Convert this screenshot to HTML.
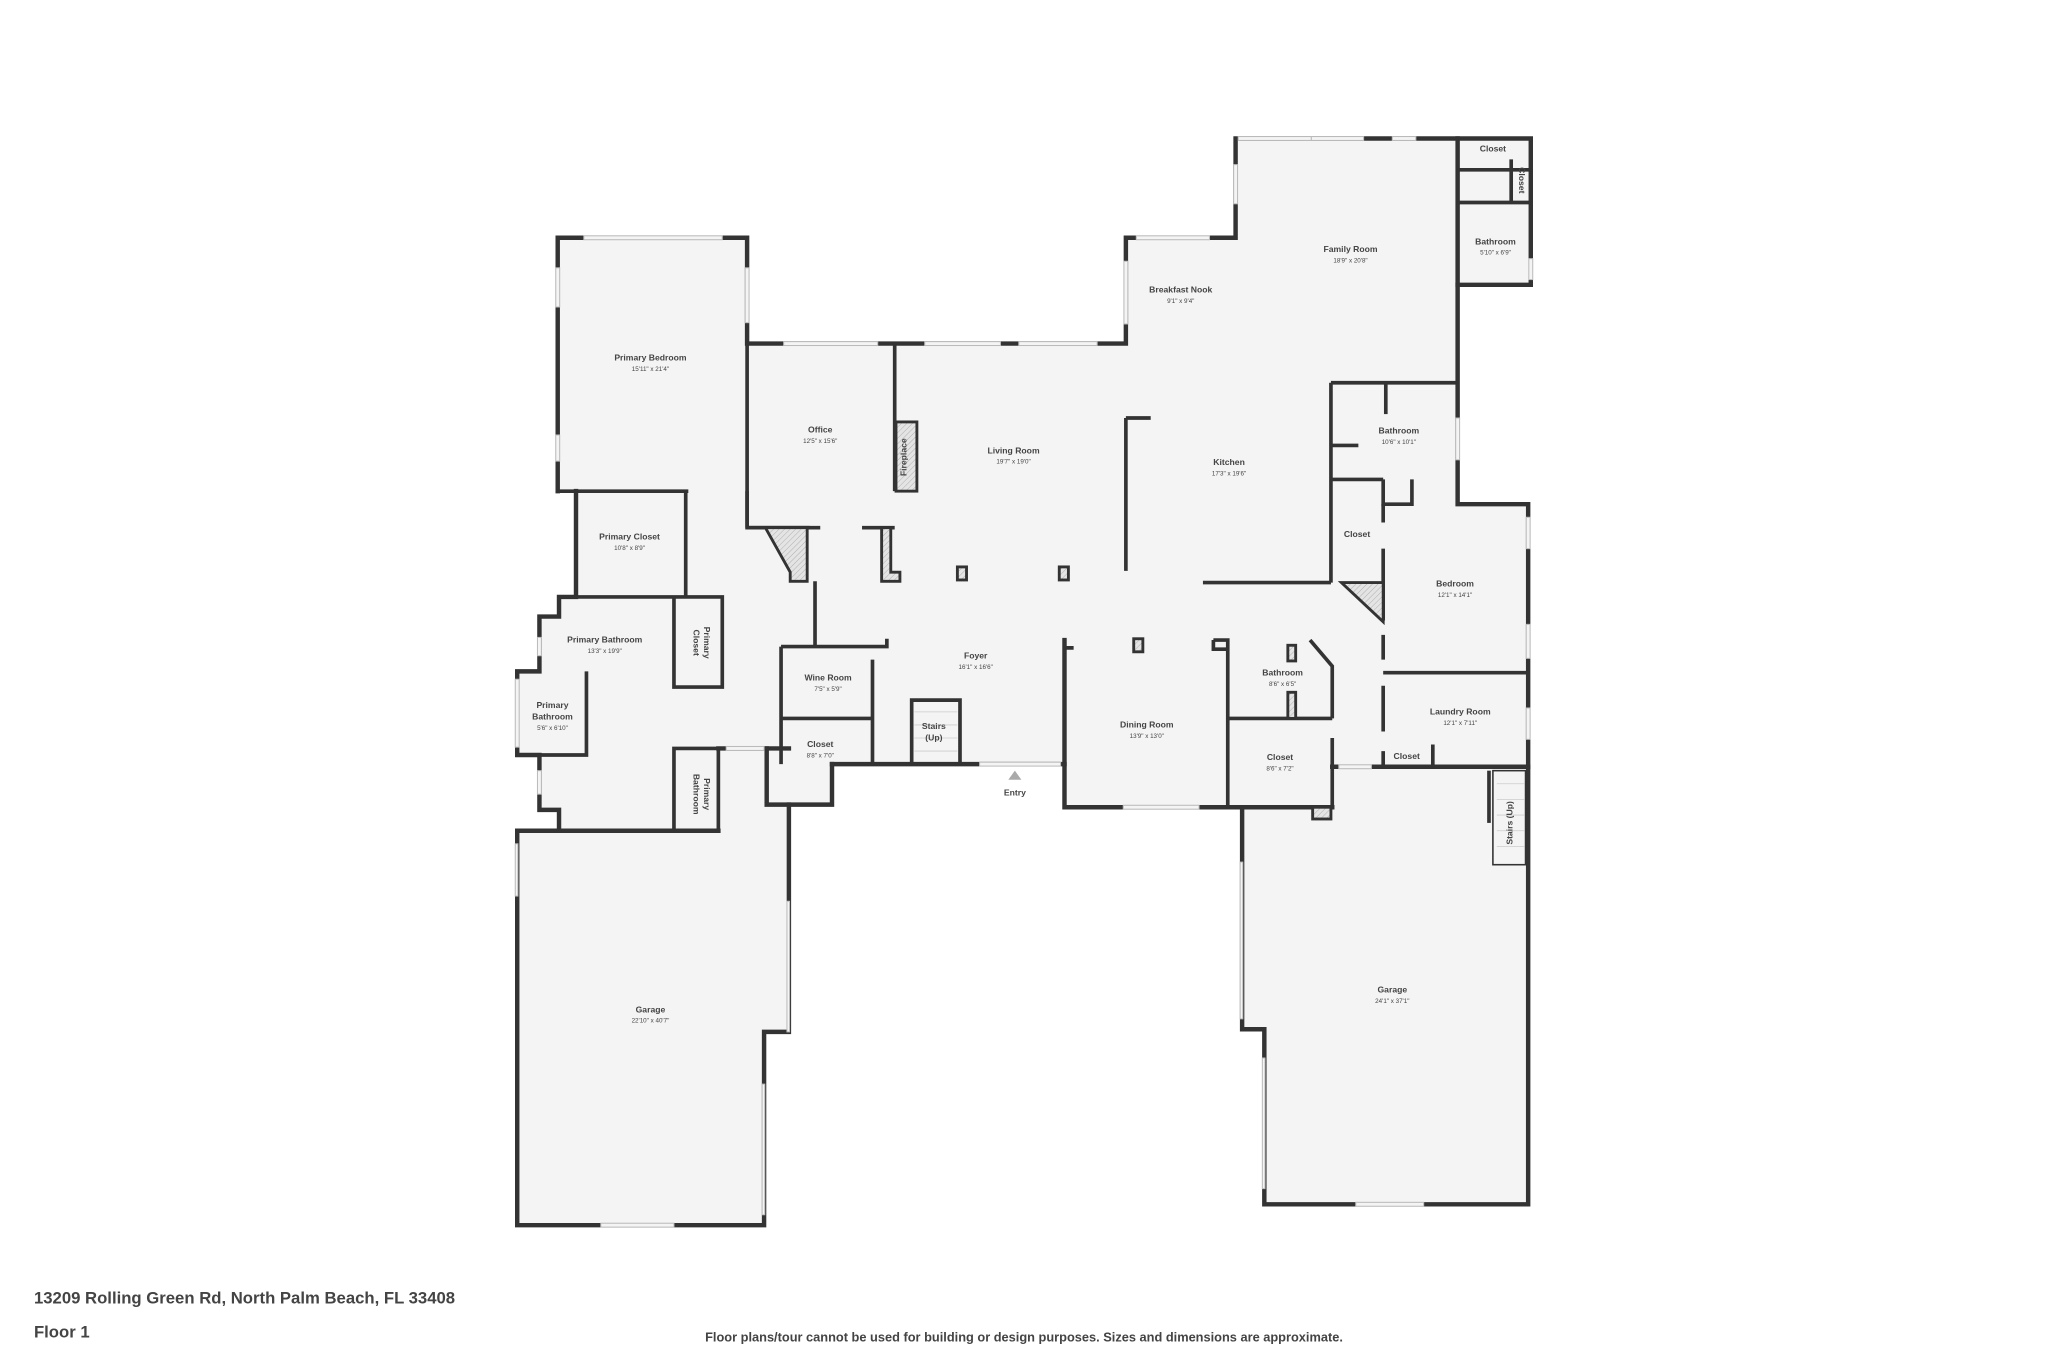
<!DOCTYPE html>
<html><head><meta charset="utf-8"><style>
html,body{margin:0;padding:0;background:#fff;}
svg{display:block;}
text{font-family:"Liberation Sans",sans-serif;fill:#444;text-anchor:middle;}
.n{font-size:6.6px;font-weight:bold;}
.d{font-size:4.8px;}
</style></head><body>
<svg width="2048" height="1365" viewBox="0 0 1568 1045" xmlns="http://www.w3.org/2000/svg">
<defs>
<pattern id="h" width="3" height="3" patternUnits="userSpaceOnUse" patternTransform="rotate(45)">
<rect width="3" height="3" fill="#e4e4e4"/><line x1="0" y1="0" x2="0" y2="3" stroke="#aaa" stroke-width="0.7"/></pattern>
</defs>
<path fill="#f4f4f4" d="M427,182 H572 V263 H862 V182 H946 V106 H1172 V218 H1116 V386 H1170 V922 H968 V788 H951 V618 H815 V585 H637 V616 H604 V790 H585 V938 H396 V636 H428 V620 H413 V578 H396 V514 H413 V472 H428 V457 H441 V376 H427 Z"/>
<g fill="none" stroke="#333" stroke-width="3.4" stroke-linecap="square">
<path d="M427,376 V182 H572 V263 H862 V182 H946 V106 H1172 V218 H1116"/>
<path d="M1116,106 V386 H1170 V922 H968 V788 H951 V618"/>
<path d="M815,490 V618 H1020"/>
<path d="M1020,587 H1170"/>
<path d="M637,585 H815"/>
<path d="M587,573 V616 H637 V585"/>
<path d="M604,616 V790 H585 V938 H396 V636 H550"/>
<path d="M550,573 H604"/>
<path d="M428,636 V620 H413 V578 H396 V514 H413 V472 H428 V457 H441 V376"/>
</g>
<g fill="none" stroke="#333" stroke-width="2.8">
<path d="M427,376 H527"/>
<path d="M441,376 V457"/>
<path d="M525,376 V457"/>
<path d="M428,457 H553 V526 H516 V457"/>
<path d="M396,578 H449 V514"/>
<path d="M516,636 V573 H550 V636"/>
<path d="M572,376 V404 H620"/>
<path d="M572,263 V404"/>
<path d="M572,404 H628 M660,404 H685"/>
<path d="M685,263 V376"/>
<path d="M624,445 V495"/>
<path d="M598,495 H679 V489"/>
<path d="M598,495 V585"/>
<path d="M668,505 V585"/>
<path d="M598,550 H668"/>
<path d="M698,585 V536 H735 V585"/>
<path d="M862,320 V437"/>
<path d="M862,320 H881"/>
<path d="M921,446 H1019"/>
<path d="M1019,293 H1116"/>
<path d="M1019,293 V446"/>
<path d="M1061,293 V317"/>
<path d="M1019,341 H1040"/>
<path d="M1019,367 H1059"/>
<path d="M1059,367 V386 H1081 V367"/>
<path d="M1059,386 V400 M1059,420 V475 M1059,486 V505 M1059,525 V560 M1059,575 V587 H1097 V570"/>
<path d="M1059,515 H1170"/>
<path d="M929,490 H940 V618"/>
<path d="M929,490 V497 H940"/>
<path d="M1003,490 L1020,510 V550 M1020,565 V618"/>
<path d="M940,550 H1020"/>
<path d="M815,490 V496 H822"/>
<path d="M1140,590 V630"/>
<path d="M1116,130 H1172 M1116,155 H1172 M1157,122 V155"/>
</g>
<g stroke="#333" stroke-width="2.2" fill="url(#h)">
<rect x="686" y="323" width="16" height="53"/>
<path d="M586,404 H618 V445 H605 V438 Z"/>
<path d="M675,404 H682 V438 H689 V445 H675 Z"/>
<path d="M1027,446 H1059 V476 Z"/>
<rect x="733" y="434" width="7" height="10"/>
<rect x="811" y="434" width="7" height="10"/>
<rect x="868" y="489" width="7" height="10"/>
<rect x="986" y="494" width="6" height="12"/>
<rect x="986" y="530" width="6" height="20"/>
<rect x="1005" y="618" width="14" height="9"/>
<rect x="1143" y="590" width="25" height="72" fill="#f4f4f4" stroke-width="1.2"/>
</g>
<g fill="#f4f4f4" stroke="#bbb" stroke-width="0.8">
<rect x="447" y="180.5" width="106" height="3"/>
<rect x="570.5" y="205" width="3" height="42"/>
<rect x="425.5" y="205" width="3" height="30"/>
<rect x="425.5" y="333" width="3" height="20"/>
<rect x="600" y="261.5" width="72" height="3"/>
<rect x="708" y="261.5" width="58" height="3"/>
<rect x="780" y="261.5" width="60" height="3"/>
<rect x="870" y="180.5" width="56" height="3"/>
<rect x="860.5" y="200" width="3" height="48"/>
<rect x="948" y="104.5" width="56" height="3"/>
<rect x="1004" y="104.5" width="40" height="3"/>
<rect x="1066" y="104.5" width="18" height="3"/>
<rect x="944.5" y="126" width="3" height="30"/>
<rect x="1170.5" y="198" width="3" height="16"/>
<rect x="1114.5" y="320" width="3" height="32"/>
<rect x="1168.5" y="396" width="3" height="24"/>
<rect x="1168.5" y="478" width="3" height="26"/>
<rect x="1168.5" y="542" width="3" height="24"/>
<rect x="1038" y="920.5" width="52" height="3"/>
<rect x="460" y="936.5" width="56" height="3"/>
<rect x="860" y="616.5" width="58" height="3"/>
<rect x="750" y="583.5" width="62" height="3"/>
<rect x="556" y="571.5" width="29" height="3"/>
<rect x="394.5" y="520" width="3" height="52"/>
<rect x="411.5" y="488" width="3" height="14"/>
<rect x="411.5" y="590" width="3" height="18"/>
<rect x="394.5" y="646" width="2" height="40"/>
<rect x="602.5" y="690" width="2" height="100"/>
<rect x="583.5" y="830" width="2" height="100"/>
<rect x="949.5" y="660" width="2" height="120"/>
<rect x="966.5" y="810" width="2" height="100"/>
<rect x="1025" y="585.5" width="25" height="3"/>
</g>
<polygon points="777,590 772,597 782,597" fill="#aaa"/>
<g stroke="#ccc" stroke-width="0.6">
<line x1="700" y1="545" x2="733" y2="545"/><line x1="700" y1="555" x2="733" y2="555"/><line x1="700" y1="565" x2="733" y2="565"/><line x1="700" y1="575" x2="733" y2="575"/>
<line x1="1146" y1="600" x2="1167" y2="600"/><line x1="1146" y1="612" x2="1167" y2="612"/><line x1="1146" y1="624" x2="1167" y2="624"/><line x1="1146" y1="636" x2="1167" y2="636"/><line x1="1146" y1="648" x2="1167" y2="648"/>
</g>
<text class="n" x="498" y="276">Primary Bedroom</text><text class="d" x="498" y="284">15'11" x 21'4"</text>
<text class="n" x="628" y="331">Office</text><text class="d" x="628" y="339">12'5" x 15'6"</text>
<text class="n" x="776" y="347">Living Room</text><text class="d" x="776" y="355">19'7" x 19'0"</text>
<text class="n" x="904" y="224">Breakfast Nook</text><text class="d" x="904" y="232">9'1" x 9'4"</text>
<text class="n" x="1034" y="193">Family Room</text><text class="d" x="1034" y="201">18'9" x 20'8"</text>
<text class="n" x="1143" y="116">Closet</text>
<text class="n" x="1163" y="138" transform="rotate(90 1163 138)">Closet</text>
<text class="n" x="1145" y="187">Bathroom</text><text class="d" x="1145" y="195">5'10" x 6'9"</text>
<text class="n" x="1071" y="332">Bathroom</text><text class="d" x="1071" y="340">10'6" x 10'1"</text>
<text class="n" x="941" y="356">Kitchen</text><text class="d" x="941" y="364">17'3" x 19'6"</text>
<text class="n" x="1039" y="411">Closet</text>
<text class="n" x="1114" y="449">Bedroom</text><text class="d" x="1114" y="457">12'1" x 14'1"</text>
<text class="n" x="482" y="413">Primary Closet</text><text class="d" x="482" y="421">10'8" x 8'9"</text>
<text class="n" x="463" y="492">Primary Bathroom</text><text class="d" x="463" y="500">13'3" x 19'9"</text>
<text class="n" x="423" y="542">Primary</text><text class="n" x="423" y="551">Bathroom</text><text class="d" x="423" y="559">5'6" x 6'10"</text>
<text class="n" x="539" y="492" transform="rotate(90 539 492)">Primary</text>
<text class="n" x="531" y="492" transform="rotate(90 531 492)">Closet</text>
<text class="n" x="539" y="608" transform="rotate(90 539 608)">Primary</text>
<text class="n" x="531" y="608" transform="rotate(90 531 608)">Bathroom</text>
<text class="n" x="694" y="350" transform="rotate(-90 694 350)">Fireplace</text>
<text class="n" x="634" y="521">Wine Room</text><text class="d" x="634" y="529">7'5" x 5'9"</text>
<text class="n" x="628" y="572">Closet</text><text class="d" x="628" y="580">8'8" x 7'0"</text>
<text class="n" x="747" y="504">Foyer</text><text class="d" x="747" y="512">16'1" x 16'6"</text>
<text class="n" x="715" y="558">Stairs</text><text class="n" x="715" y="567">(Up)</text>
<text class="n" x="777" y="609">Entry</text>
<text class="n" x="878" y="557">Dining Room</text><text class="d" x="878" y="565">13'9" x 13'0"</text>
<text class="n" x="982" y="517">Bathroom</text><text class="d" x="982" y="525">8'6" x 6'5"</text>
<text class="n" x="980" y="582">Closet</text><text class="d" x="980" y="590">8'6" x 7'2"</text>
<text class="n" x="1118" y="547">Laundry Room</text><text class="d" x="1118" y="555">12'1" x 7'11"</text>
<text class="n" x="1077" y="581">Closet</text>
<text class="n" x="1158" y="630" transform="rotate(-90 1158 630)">Stairs (Up)</text>
<text class="n" x="498" y="775">Garage</text><text class="d" x="498" y="783">22'10" x 40'7"</text>
<text class="n" x="1066" y="760">Garage</text><text class="d" x="1066" y="768">24'1" x 37'1"</text>
<text x="26" y="998" style="font-size:12.8px;font-weight:bold;text-anchor:start;fill:#444">13209 Rolling Green Rd, North Palm Beach, FL 33408</text>
<text x="26" y="1024" style="font-size:12.8px;font-weight:bold;text-anchor:start;fill:#444">Floor 1</text>
<text x="784" y="1027" style="font-size:9.8px;font-weight:bold;fill:#444">Floor plans/tour cannot be used for building or design purposes. Sizes and dimensions are approximate.</text>
</svg>
</body></html>
